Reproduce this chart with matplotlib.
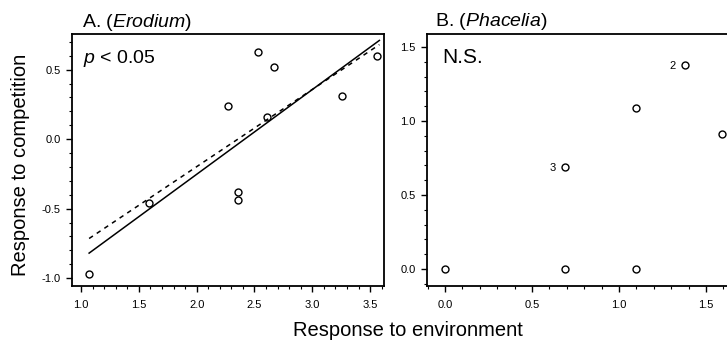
import matplotlib
matplotlib.use('Agg')
import matplotlib.pyplot as plt
import numpy as np

plt.rcParams['font.family'] = ['Liberation Sans', 'DejaVu Sans']
plt.rcParams['mathtext.fontset'] = 'custom'
plt.rcParams['mathtext.rm'] = 'Liberation Sans'
plt.rcParams['mathtext.it'] = 'Liberation Sans:italic'

# A. Erodium
erodium_env = [1.07, 1.59, 2.36, 2.36, 2.27, 2.53, 2.67, 2.61, 3.26, 3.56]
erodium_comp = [-0.97, -0.46, -0.38, -0.44, 0.24, 0.63, 0.52, 0.16, 0.31, 0.60]
fit_x = [1.07, 3.58]
solid_slope, solid_icpt = 0.61, -1.473
dashed_slope, dashed_icpt = 0.556, -1.31

# B. Phacelia
phacelia_env = [0.0, 0.69, 1.10, 0.69, 1.10, 1.38, 1.59]
phacelia_comp = [0.0, 0.0, 0.0, 0.69, 1.09, 1.38, 0.91]
phacelia_counts = ['', '', '', '3', '', '2', '']

W, H = 727, 345
fig = plt.figure(figsize=(W / 100, H / 100), dpi=100)
ax1 = fig.add_axes([72 / W, 1 - 286 / H, (384 - 72) / W, (286 - 34) / H])
ax2 = fig.add_axes([427 / W, 1 - 286 / H, (760 - 427) / W, (286 - 34) / H])

mk = dict(marker='o', ls='none', mfc='white', mec='black', ms=5, mew=1.0)

ax1.plot(erodium_env, erodium_comp, **mk)
fx = np.array(fit_x)
ax1.plot(fx, solid_slope * fx + solid_icpt, color='black', lw=1.1)
ax1.plot(fx, dashed_slope * fx + dashed_icpt, color='black', lw=1.1, ls=(0, (3, 3)))
ax1.set_xlim(0.922, 3.62)
ax1.set_ylim(-1.057, 0.757)
ax1.set_xticks([1.0, 1.5, 2.0, 2.5, 3.0, 3.5])
ax1.set_xticklabels(['1.0', '1.5', '2.0', '2.5', '3.0', '3.5'])
ax1.set_yticks([-1.0, -0.5, 0.0, 0.5])
ax1.set_yticklabels(['-1.0', '-0.5', '0.0', '0.5'])

ax2.plot(phacelia_env, phacelia_comp, **mk)
for x, y, lab in zip(phacelia_env, phacelia_comp, phacelia_counts):
    if lab:
        ax2.annotate(lab, (x, y), xytext=(-9, -1), textcoords='offset points',
                     fontsize=8, ha='center', va='center')
ax2.set_xlim(-0.103, 1.81)
ax2.set_ylim(-0.114, 1.587)
ax2.set_xticks([0.0, 0.5, 1.0, 1.5])
ax2.set_xticklabels(['0.0', '0.5', '1.0', '1.5'])
ax2.set_yticks([0.0, 0.5, 1.0, 1.5])
ax2.set_yticklabels(['0.0', '0.5', '1.0', '1.5'])

for ax in (ax1, ax2):
    for s in ax.spines.values():
        s.set_linewidth(1.3)
    ax.minorticks_on()
    ax.tick_params(which='major', direction='out', length=4, width=1, labelsize=8, pad=4)
    ax.tick_params(axis='x', which='major', pad=6)
    ax.tick_params(which='minor', direction='out', length=2, width=0.8)
    ax.tick_params(top=False, right=False, which='both')

def px(x, y):
    return x / W, 1 - y / H

fig.text(*px(82, 27), r'A. ($\mathit{Erodium}$)', fontsize=14, va='baseline')
fig.text(*px(435, 26), r'B. ($\mathit{Phacelia}$)', fontsize=14, va='baseline')
fig.text(*px(83, 63), r'$\mathit{p}$ < 0.05', fontsize=14, va='baseline')
fig.text(*px(442, 63), 'N.S.', fontsize=15, va='baseline')
fig.text(*px(408, 330), 'Response to environment', fontsize=14.5,
         ha='center', va='center')
fig.text(*px(21, 165), 'Response to competition', fontsize=14.5,
         ha='center', va='center', rotation=90)

fig.savefig('out.png', dpi=100)
